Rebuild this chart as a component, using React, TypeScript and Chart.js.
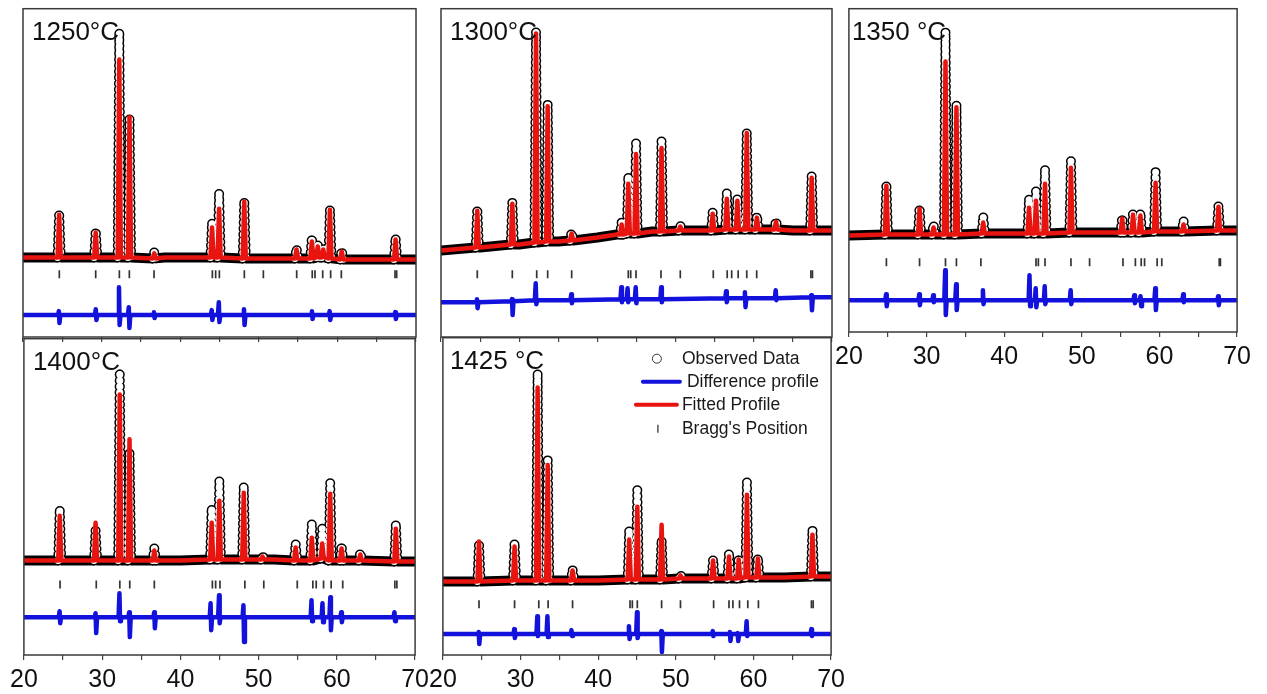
import React, { useEffect, useRef } from 'react';
import { Chart, registerables } from 'chart.js';

Chart.register(...registerables);

// ---------------- data (2θ in degrees, intensity in arbitrary units) ----------------
const X_MIN = 20;
const X_MAX = 70;
const xMajorTicks = [20, 30, 40, 50, 60, 70];
const legendLabels = ['Observed Data', 'Difference profile', 'Fitted Profile', "Bragg's Position"];

// peaks: [2θ, foot level, observed top, fitted top]
// diff spikes: [2θ, level, high, low]

// 1250 °C
const title1250 = '1250°C';
const base1250 = [[20, 80], [38, 80], [43, 80], [52, 79], [64, 78], [70, 78]];
const peaks1250 = [
  [24.6, 80, 125, 123], [29.25, 80, 107, 105], [32.25, 80, 307, 279], [33.55, 80, 219, 221],
  [36.7, 79, 85, 84], [44.05, 80, 115, 110], [44.95, 80, 145, 129], [48.15, 79, 137, 136],
  [54.8, 79, 89, 88], [56.75, 79, 100, 96], [57.5, 80, 92, 91], [58.2, 80, 90, 88],
  [59.05, 79, 128, 128], [60.55, 78, 87, 86], [67.4, 78, 100, 98],
];
const diffBase1250 = [[20, 22], [70, 22]];
const diff1250 = [
  [24.6, 22, 26, 14], [29.3, 22, 28, 17], [32.25, 22, 50, 12], [33.5, 22, 30, 9],
  [36.7, 22, 25, 19], [44.05, 22, 27, 17], [44.95, 22, 35, 15], [48.15, 22, 28, 12],
  [56.8, 22, 26, 18], [59.05, 22, 26, 17], [67.4, 22, 25, 18],
];
const bragg1250 = [24.62, 29.25, 32.26, 33.53, 36.67, 44.09, 44.51, 44.98, 48.16, 50.58, 54.82, 56.8, 57.15, 58.13, 59.14, 60.5, 67.33, 67.54];
const braggLevel1250 = 63;

// 1300 °C
const title1300 = '1300°C';
const base1300 = [[20, 87], [25, 90], [30, 93], [35, 96], [40, 100], [42.5, 103], [47, 106], [52, 107], [60, 108], [65, 107], [70, 107]];
const peaks1300 = [
  [24.64, 90, 129, 127], [29.12, 93, 135, 134], [32.15, 95, 307, 305], [33.64, 96, 234, 232],
  [36.7, 97, 105, 104], [43.1, 103, 115, 113], [43.95, 104, 162, 154], [44.94, 104, 195, 184],
  [48.2, 106, 197, 190], [50.6, 107, 112, 111], [54.74, 107, 125, 124], [56.55, 108, 145, 139],
  [57.9, 108, 140, 137], [59.1, 108, 205, 205], [60.4, 108, 122, 120], [62.84, 108, 117, 116],
  [67.4, 107, 162, 160],
];
const diffBase1300 = [[20, 35], [45, 38], [70, 40]];
const diff1300 = [
  [24.64, 35, 38, 29], [29.12, 36, 38, 22], [32.15, 37, 54, 33], [36.7, 37, 43, 34],
  [43.1, 38, 50, 35], [43.9, 38, 49, 35], [44.94, 38, 50, 34], [48.2, 38, 50, 35],
  [56.5, 39, 46, 35], [58.9, 39, 45, 30], [62.84, 39, 47, 37], [67.4, 40, 42, 27],
];
const bragg1300 = [24.64, 29.12, 32.24, 33.64, 36.71, 43.95, 44.26, 44.94, 48.13, 50.6, 54.82, 56.6, 57.17, 58.0, 59.1, 60.37, 67.3, 67.5];
const braggLevel1300 = 63;

// 1350 °C
const title1350 = '1350 °C';
const base1350 = [[20, 97], [30, 98], [40, 99], [50, 100], [60, 101], [70, 102]];
const peaks1350 = [
  [24.83, 98, 149, 147], [29.1, 98, 125, 124], [30.9, 98, 108, 105], [32.44, 98, 302, 272],
  [33.85, 98, 229, 226], [37.3, 99, 116, 110], [43.2, 99, 134, 125], [44.1, 99, 142, 132],
  [45.26, 99, 164, 149], [48.6, 100, 172, 165], [55.2, 100, 115, 114], [56.6, 100, 120, 118],
  [57.55, 100, 120, 117], [59.5, 101, 161, 150], [63.1, 101, 112, 108], [67.6, 102, 127, 126],
];
const diffBase1350 = [[20, 32], [70, 32]];
const diff1350 = [
  [24.83, 32, 38, 26], [29.1, 32, 38, 27], [30.9, 32, 37, 30], [32.44, 32, 62, 17],
  [33.85, 32, 48, 22], [37.3, 32, 42, 28], [43.3, 32, 57, 26], [44.1, 32, 44, 25],
  [45.26, 32, 46, 28], [48.6, 32, 42, 28], [56.8, 32, 37, 29], [57.6, 32, 36, 26],
  [59.5, 32, 44, 22], [63.1, 32, 38, 30], [67.6, 32, 36, 27],
];
const bragg1350 = [24.83, 29.1, 32.44, 33.85, 37.0, 44.1, 44.4, 45.26, 48.6, 51.0, 55.3, 56.9, 57.65, 58.08, 59.7, 60.3, 67.7, 67.85];
const braggLevel1350 = 70;

// 1400 °C
const title1400 = '1400°C';
const base1400 = [[20, 95], [40, 95], [45.5, 96], [52, 96], [70, 94]];
const peaks1400 = [
  [24.58, 95, 147, 140], [29.16, 95, 125, 133], [32.25, 95, 285, 262], [33.5, 95, 203, 217],
  [36.67, 95, 107, 105], [44.0, 96, 148, 133], [44.98, 96, 175, 155], [48.1, 96, 170, 163],
  [50.5, 96, 100, 99], [54.73, 95, 112, 108], [56.8, 95, 132, 118], [58.13, 97, 127, 112],
  [59.15, 95, 173, 162], [60.6, 95, 110, 107], [63.0, 95, 103, 101], [67.54, 94, 132, 127],
];
const diffBase1400 = [[20, 38], [70, 38]];
const diff1400 = [
  [24.6, 38, 44, 32], [29.2, 38, 42, 22], [32.25, 38, 62, 34], [33.5, 38, 43, 18],
  [36.7, 38, 43, 27], [43.9, 38, 52, 25], [44.98, 38, 60, 32], [48.1, 38, 50, 13],
  [56.8, 38, 55, 34], [58.2, 38, 52, 33], [59.2, 38, 58, 25], [60.6, 38, 43, 33],
  [67.4, 38, 43, 34],
];
const bragg1400 = [24.62, 29.25, 32.26, 33.53, 36.67, 44.09, 44.51, 45.06, 48.24, 50.66, 54.94, 56.93, 57.36, 58.3, 59.27, 60.75, 67.41, 67.67];
const braggLevel1400 = 71;

// 1425 °C
const title1425 = '1425 °C';
const base1425 = [[20, 74], [40, 75], [52, 77], [64, 78], [70, 79]];
const peaks1425 = [
  [24.65, 74, 113, 114], [29.23, 75, 113, 109], [32.2, 75, 284, 269], [33.5, 75, 196, 191],
  [36.7, 75, 86, 85], [44.0, 76, 126, 116], [45.04, 76, 166, 149], [48.17, 76, 116, 131],
  [50.6, 77, 81, 80], [54.8, 77, 96, 95], [56.85, 77, 103, 99], [58.1, 77, 98, 96],
  [59.16, 78, 174, 161], [60.57, 78, 98, 97], [67.6, 79, 126, 121],
];
const diffBase1425 = [[20, 21], [70, 21]];
const diff1425 = [
  [24.65, 21, 23, 11], [29.23, 21, 26, 17], [32.2, 21, 39, 19], [33.5, 21, 39, 18],
  [36.6, 21, 25, 19], [44.0, 21, 29, 16], [45.04, 21, 43, 17], [48.17, 21, 24, 3],
  [54.8, 21, 24, 19], [57.0, 21, 23, 14], [58.0, 21, 22, 14], [59.16, 21, 34, 19],
  [67.5, 21, 26, 19],
];
const bragg1425 = [24.65, 29.23, 32.35, 33.55, 36.7, 44.1, 44.4, 45.04, 48.17, 50.6, 54.87, 56.85, 57.35, 58.2, 59.27, 60.64, 67.47, 67.69];
const braggLevel1425 = 51;

// ---------------- styling ----------------
const RED = '#e8140f';
const BLUE = '#1212dc';
const FONT = '"Liberation Sans", Arial, Helvetica, sans-serif';
const PEAK_HALF = 0.2;
const SPIKE_HALF = 0.15;
const SPIKE_INNER = 0.04;
const PADX = 18;
const PADT = 4;

type Pt = { x: number; y: number };

function buildProfile(base: number[][], peaks: number[][], col: number): Pt[] {
  const pts: Pt[] = base.map(([x, y]) => ({ x, y }));
  for (const p of peaks) {
    pts.push({ x: p[0] - PEAK_HALF, y: p[1] }, { x: p[0], y: p[col] }, { x: p[0] + PEAK_HALF, y: p[1] });
  }
  return pts.sort((a, b) => a.x - b.x);
}

function buildDiff(base: number[][], spikes: number[][]): Pt[] {
  const pts: Pt[] = base.map(([x, y]) => ({ x, y }));
  for (const s of spikes) {
    pts.push(
      { x: s[0] - SPIKE_HALF, y: s[1] },
      { x: s[0] - SPIKE_INNER, y: s[2] },
      { x: s[0] + SPIKE_INNER, y: s[3] },
      { x: s[0] + SPIKE_HALF, y: s[1] },
    );
  }
  return pts.sort((a, b) => a.x - b.x);
}

const steep = (c: any) => {
  const dx = Math.abs(c.p1.x - c.p0.x);
  const dy = Math.abs(c.p1.y - c.p0.y);
  return dy > 3 && dy > 2.5 * dx;
};

const framePlugin = {
  id: 'frame',
  afterDraw(chart: any) {
    const { ctx, chartArea: a } = chart;
    ctx.save();
    ctx.strokeStyle = '#3a3a3a';
    ctx.lineWidth = 1.5;
    ctx.strokeRect(a.left, a.top, a.right - a.left, a.bottom - a.top);
    ctx.restore();
  },
};

const titlePlugin = {
  id: 'panelTitle',
  afterDraw(chart: any, _args: any, opts: any) {
    const { ctx, chartArea: a } = chart;
    ctx.save();
    ctx.font = `26px ${FONT}`;
    ctx.fillStyle = '#111';
    ctx.textBaseline = 'middle';
    ctx.textAlign = 'left';
    ctx.fillText(opts.text, a.left + opts.dx, a.top + 24);
    ctx.restore();
  },
};

const legendPlugin = {
  id: 'xrdLegend',
  afterDraw(chart: any) {
    const { ctx, chartArea: a } = chart;
    const x0 = a.left;
    const y0 = a.top;
    ctx.save();
    ctx.font = `17.5px ${FONT}`;
    ctx.fillStyle = '#1a1a1a';
    ctx.textBaseline = 'middle';
    ctx.textAlign = 'left';
    // observed
    ctx.beginPath();
    ctx.arc(x0 + 214, y0 + 21, 4.5, 0, Math.PI * 2);
    ctx.strokeStyle = '#333';
    ctx.lineWidth = 1;
    ctx.stroke();
    ctx.fillText(legendLabels[0], x0 + 239, y0 + 21);
    // difference
    ctx.lineCap = 'round';
    ctx.strokeStyle = BLUE;
    ctx.lineWidth = 4;
    ctx.beginPath();
    ctx.moveTo(x0 + 200, y0 + 44);
    ctx.lineTo(x0 + 237, y0 + 44);
    ctx.stroke();
    ctx.fillText(legendLabels[1], x0 + 244, y0 + 44);
    // fitted
    ctx.strokeStyle = RED;
    ctx.beginPath();
    ctx.moveTo(x0 + 193, y0 + 67);
    ctx.lineTo(x0 + 234, y0 + 67);
    ctx.stroke();
    ctx.fillText(legendLabels[2], x0 + 239, y0 + 67);
    // bragg
    ctx.lineCap = 'butt';
    ctx.strokeStyle = '#444';
    ctx.lineWidth = 1.4;
    ctx.beginPath();
    ctx.moveTo(x0 + 215, y0 + 87);
    ctx.lineTo(x0 + 215, y0 + 95);
    ctx.stroke();
    ctx.fillText(legendLabels[3], x0 + 239, y0 + 91);
    ctx.restore();
  },
};

type PanelDef = {
  title: string;
  titleDx: number;
  base: number[][];
  peaks: number[][];
  diffBase: number[][];
  diff: number[][];
  bragg: number[];
  braggLevel: number;
  left: number;
  top: number;
  w: number;
  h: number;
  labeled: boolean;
  legend?: boolean;
};

const panels: PanelDef[] = [
  { title: title1250, titleDx: 9, base: base1250, peaks: peaks1250, diffBase: diffBase1250, diff: diff1250, bragg: bragg1250, braggLevel: braggLevel1250, left: 23, top: 7, w: 393, h: 330, labeled: false },
  { title: title1300, titleDx: 9, base: base1300, peaks: peaks1300, diffBase: diffBase1300, diff: diff1300, bragg: bragg1300, braggLevel: braggLevel1300, left: 441, top: 7, w: 391, h: 330, labeled: false },
  { title: title1350, titleDx: 3, base: base1350, peaks: peaks1350, diffBase: diffBase1350, diff: diff1350, bragg: bragg1350, braggLevel: braggLevel1350, left: 848, top: 7, w: 390, h: 325, labeled: true },
  { title: title1400, titleDx: 9, base: base1400, peaks: peaks1400, diffBase: diffBase1400, diff: diff1400, bragg: bragg1400, braggLevel: braggLevel1400, left: 23, top: 337, w: 393, h: 318, labeled: true },
  { title: title1425, titleDx: 7, base: base1425, peaks: peaks1425, diffBase: diffBase1425, diff: diff1425, bragg: bragg1425, braggLevel: braggLevel1425, left: 442, top: 336, w: 390, h: 319, labeled: true, legend: true },
];

function makeConfig(p: PanelDef, axisH: number): any {
  const obs = buildProfile(p.base, p.peaks, 2);
  const fit = buildProfile(p.base, p.peaks, 3);
  const diff = buildDiff(p.diffBase, p.diff);
  const bragg = p.bragg.map((x) => ({ x, y: p.braggLevel }));
  const plugins: any[] = [framePlugin, titlePlugin];
  if (p.legend) plugins.push(legendPlugin);
  return {
    type: 'line',
    data: {
      datasets: [
        { label: legendLabels[2], data: fit, borderColor: RED, borderWidth: 4.5, pointRadius: 0, borderJoinStyle: 'round', tension: 0 },
        {
          label: 'obs-inner', data: obs, borderColor: 'rgba(0,0,0,0)', borderWidth: 7, borderCapStyle: 'round',
          borderDash: [0, 6], pointRadius: 0, tension: 0,
          segment: { borderColor: (c: any) => (steep(c) ? '#ffffff' : 'rgba(0,0,0,0)') },
        },
        {
          label: legendLabels[0], data: obs, borderColor: '#000', borderWidth: 10, borderCapStyle: 'round', borderJoinStyle: 'round',
          pointRadius: 0, tension: 0,
          segment: {
            borderDash: (c: any) => (steep(c) ? [0, 6] : []),
          },
        },
        { label: legendLabels[1], data: diff, borderColor: BLUE, borderWidth: 4.5, pointRadius: 0, borderJoinStyle: 'round', tension: 0 },
        {
          label: legendLabels[3], data: bragg, showLine: false, pointStyle: 'line', pointRotation: 90, pointRadius: 4,
          borderColor: '#333', borderWidth: 1.7, backgroundColor: '#333',
        },
      ],
    },
    options: {
      animation: false,
      responsive: false,
      devicePixelRatio: 1,
      events: [],
      layout: { padding: { left: PADX, right: PADX, top: PADT, bottom: 0 } },
      plugins: {
        legend: { display: false },
        tooltip: { enabled: false },
        panelTitle: { text: p.title, dx: p.titleDx },
      },
      scales: {
        x: {
          type: 'linear',
          min: X_MIN,
          max: X_MAX,
          afterFit: (s: any) => {
            s.height = axisH;
          },
          border: { display: false },
          grid: { drawOnChartArea: false, drawTicks: true, tickLength: 5, color: '#444', lineWidth: 1.2 },
          ticks: {
            display: p.labeled,
            stepSize: 5,
            autoSkip: false,
            maxRotation: 0,
            padding: 5,
            color: '#111',
            font: { family: FONT, size: 25 },
            callback: (v: any) => (xMajorTicks.includes(Number(v)) ? String(v) : ''),
          },
        },
        y: { type: 'linear', display: false, min: 0, max: p.h },
      },
    },
    plugins,
  };
}

function Panel({ def }: { def: PanelDef }) {
  const ref = useRef<HTMLCanvasElement>(null);
  const axisH = def.labeled ? 42 : 8;
  const width = def.w + PADX * 2;
  const height = def.h + PADT + axisH;
  useEffect(() => {
    const chart = new Chart(ref.current as HTMLCanvasElement, makeConfig(def, axisH));
    return () => chart.destroy();
  }, []);
  return (
    <div style={{ position: 'absolute', left: def.left - PADX, top: def.top - PADT, width, height }}>
      <canvas ref={ref} width={width} height={height} style={{ width, height, display: 'block' }} />
    </div>
  );
}

export default function App() {
  return (
    <div style={{ position: 'fixed', left: 0, top: 0, width: 1267, height: 694, background: '#fff', overflow: 'hidden' }}>
      {panels.map((p) => (
        <Panel key={p.title} def={p} />
      ))}
    </div>
  );
}
